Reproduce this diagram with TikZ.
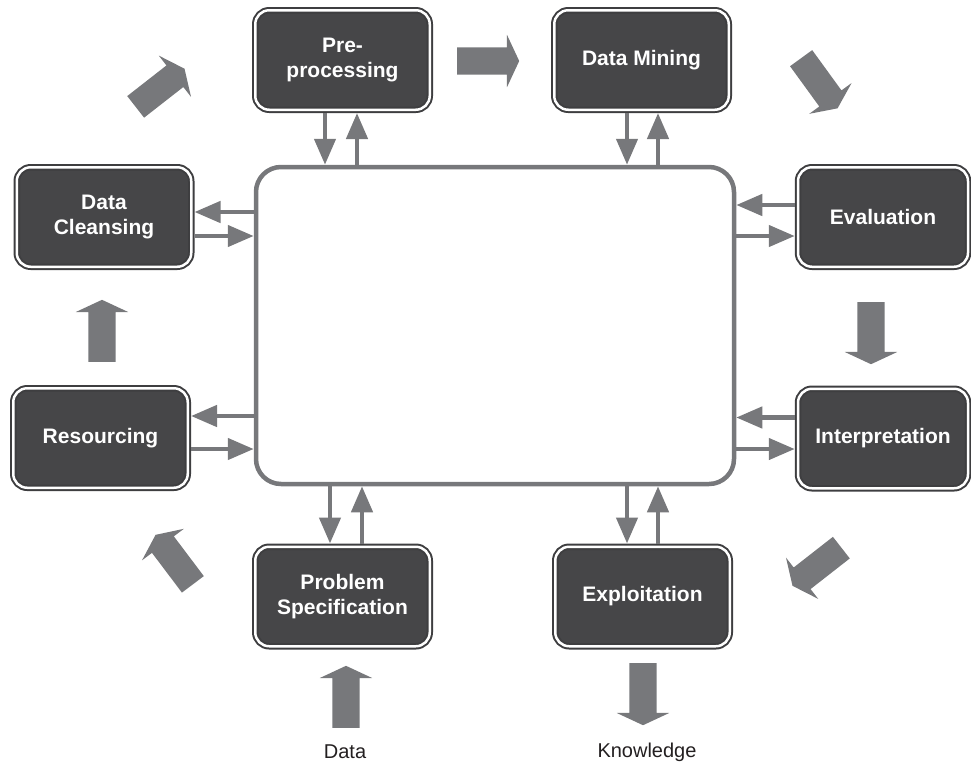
\documentclass[tikz,border=0pt]{standalone}
\usepackage{fontspec}
\setmainfont{Liberation Sans}
\usetikzlibrary{arrows.meta,shapes.arrows}
\definecolor{kdInk}{HTML}{3E3E40}
\definecolor{kdBox}{HTML}{464648}
\definecolor{kdGrey}{HTML}{77787B}
\definecolor{kdText}{HTML}{231F20}

\begin{document}
\begin{tikzpicture}[
  x=1pt,y=-1pt,
  box/.style={draw=kdInk,line width=2pt,double=white,double distance=2.5pt,
              fill=kdBox,rounded corners=14pt,minimum width=174.5pt,minimum height=99.5pt,
              inner sep=2pt,outer sep=3.25pt,text=white,align=center,
              font=\fontsize{21}{25}\selectfont\bfseries},
  nbox/.style={box,minimum width=170pt},
  hub/.style={draw=kdGrey,line width=4.5pt,rounded corners=25pt,fill=white,
              minimum width=478pt,minimum height=317pt},
  link/.style={draw=kdGrey,line width=4.5pt,-{Triangle[length=26pt,width=21pt]}},
  flow/.style={single arrow,fill=kdGrey,minimum height=62pt,inner xsep=0pt,inner ysep=13.5pt,
               single arrow head extend=12.5pt,single arrow tip angle=130,anchor=tail},
  note/.style={font=\fontsize{20}{24}\selectfont,text=kdText,anchor=base}
]
\useasboundingbox (0,0) rectangle (971,764);

\node[hub] (hub) at (495,325.5) {};

% the eight stages
\node[box]  (prep)   at (342.5,60)    {Pre-\\processing};
\node[box]  (mine)   at (641.5,60)    {Data Mining};
\node[box]  (clean)  at (104,217)     {Data\\Cleansing};
\node[nbox] (eval)   at (883,217)     {Evaluation};
\node[box]  (res)    at (100.5,438)   {Resourcing};
\node[nbox] (interp) at (883,438.5)   {Interpretation};
\node[box]  (spec)   at (342.5,596.5) {Problem\\Specification};
\node[box]  (expl)   at (642.5,596.5) {Exploitation};

% links to the hub
\draw[link] ([xshift=-17.5pt]prep.south) -- ([xshift=-17.5pt]prep.south |- hub.north);
\draw[link] ([xshift=14.5pt]prep.south |- hub.north) -- ([xshift=14.5pt]prep.south);
\draw[link] ([xshift=-14.5pt]mine.south) -- ([xshift=-14.5pt]mine.south |- hub.north);
\draw[link] ([xshift=16.5pt]mine.south |- hub.north) -- ([xshift=16.5pt]mine.south);

\draw[link] ([yshift=5pt]clean.east -| hub.west) -- ([yshift=5pt]clean.east);
\draw[link] ([yshift=-19pt]clean.east) -- ([yshift=-19pt]clean.east -| hub.west);
\draw[link] ([yshift=22pt]res.east -| hub.west) -- ([yshift=22pt]res.east);
\draw[link] ([yshift=-11pt]res.east) -- ([yshift=-11pt]res.east -| hub.west);

\draw[link] ([yshift=12pt]eval.west) -- ([yshift=12pt]eval.west -| hub.east);
\draw[link] ([yshift=-19pt]eval.west -| hub.east) -- ([yshift=-19pt]eval.west);
\draw[link] ([yshift=21pt]interp.west) -- ([yshift=21pt]interp.west -| hub.east);
\draw[link] ([yshift=-10.5pt]interp.west -| hub.east) -- ([yshift=-10.5pt]interp.west);

\draw[link] ([xshift=-12.5pt]spec.north |- hub.south) -- ([xshift=-12.5pt]spec.north);
\draw[link] ([xshift=19.5pt]spec.north) -- ([xshift=19.5pt]spec.north |- hub.south);
\draw[link] ([xshift=-15.5pt]expl.north |- hub.south) -- ([xshift=-15.5pt]expl.north);
\draw[link] ([xshift=15.5pt]expl.north) -- ([xshift=15.5pt]expl.north |- hub.south);

% cycle arrows
\node[flow,rotate=38]   (f1) at (135.5,107)   {};
\node[flow]             (f2) at (457,61)      {};
\node[flow,rotate=-54]  (f3) at (801,58)      {};
\node[flow,rotate=-90]  (f4) at (871,302)     {};
\node[flow,rotate=-142] (f5) at (841.5,547.5) {};
\node[flow,rotate=127]  (f6) at (193,584.5)   {};
\node[flow,rotate=90]   (f7) at (102,362)     {};

% input and output
\node[flow,rotate=90]   (fin)  at (346,728) {};
\node[flow,rotate=-90]  (fout) at (643,663) {};
\node[note] (datain)  at (345,758) {Data};
\node[note] (knowout) at (647,757) {Knowledge};
\end{tikzpicture}
\end{document}
